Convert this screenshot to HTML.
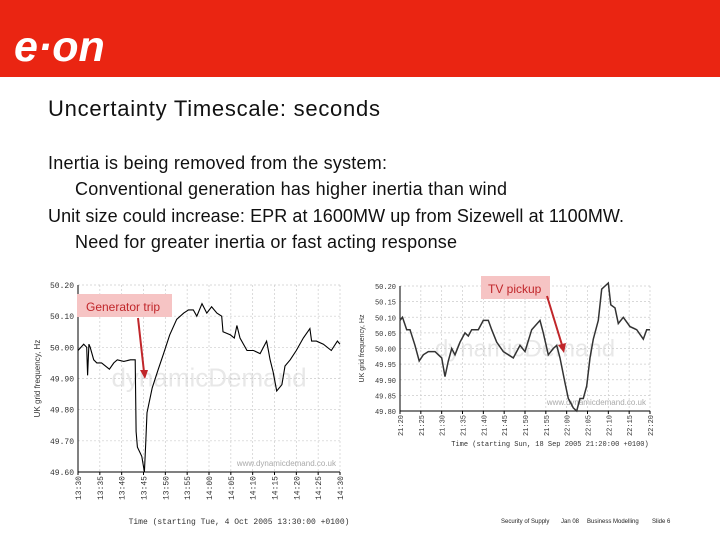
<!DOCTYPE html>
<html><head><meta charset="utf-8"><style>
body{margin:0;width:720px;height:540px;overflow:hidden;background:#fff;font-family:"Liberation Sans",sans-serif}
svg{position:absolute;left:0;top:0}
</style></head><body>
<svg id="s" width="720" height="540" xmlns="http://www.w3.org/2000/svg">
<rect x="0" y="0" width="720" height="77" fill="#ea2512"/>
<text x="14" y="61" font-family="Liberation Sans,sans-serif" font-weight="bold" font-style="italic" font-size="43" fill="#fff">e·on</text>
<text x="48" y="116" font-size="22" textLength="332" fill="#111">Uncertainty Timescale: seconds</text>
<g font-size="18" fill="#111">
<text x="48" y="169" textLength="339">Inertia is being removed from the system:</text>
<text x="75" y="195" textLength="432">Conventional generation has higher inertia than wind</text>
<text x="48" y="222" textLength="576">Unit size could increase: EPR at 1600MW up from Sizewell at 1100MW.</text>
<text x="75" y="248" textLength="382">Need for greater inertia or fast acting response</text>
</g>
<g id="c1"></g>
<g id="c2"></g>
<rect x="77" y="294" width="95" height="23" fill="#f6c4c4"/>
<text x="86" y="311" font-size="12" fill="#c0262a">Generator trip</text>
<line x1="138" y1="318" x2="144" y2="372" stroke="#c0262a" stroke-width="2"/>
<polygon points="140,370 148,370 145,379" fill="#c0262a"/>
<rect x="481" y="276" width="69" height="23" fill="#f6c4c4"/>
<text x="488" y="293" font-size="12" fill="#c0262a">TV pickup</text>
<line x1="547" y1="296" x2="562" y2="345" stroke="#c0262a" stroke-width="2"/>
<polygon points="558,345 566,343 564,353" fill="#c0262a"/>
<g font-size="6" fill="#222">
<text x="501" y="523">Security of Supply</text><text x="561" y="523">Jan 08</text><text x="587" y="523">Business Modelling</text><text x="652" y="523">Slide 6</text>
</g>
</svg>
<script>
// Left chart data (minutes from 13:30, Hz)
const leftMinutes=[0,1.3,2,2.2,2.5,2.8,3.6,4.3,5.4,7.2,8.2,9,10.5,12,13.1,13.3,13.6,14.6,15.2,15.5,15.8,17,18.4,19.6,21,22.6,24.2,25.3,26.4,27.2,28.4,29.5,30.6,31.8,32.9,33.2,34.9,35.8,36.4,37.1,38.7,40.2,41.7,43.2,43.6,44,44.7,45.5,46.7,47.4,48.6,50,51.6,53.1,53.5,54.6,56.2,58,59.4,60];
const leftFreq=[49.99,50.01,50.00,49.91,50.01,50.00,49.96,49.95,49.95,49.93,49.95,49.96,49.955,49.96,49.96,49.73,49.68,49.65,49.60,49.69,49.79,49.87,49.93,49.98,50.04,50.09,50.11,50.12,50.12,50.10,50.14,50.11,50.13,50.11,50.10,50.05,50.04,50.03,50.07,50.03,49.99,49.99,49.98,50.02,49.99,49.96,49.92,49.86,49.88,49.94,49.96,49.99,50.03,50.06,50.02,50.02,50.01,49.99,50.02,50.01];
const leftXTicks=["13:30","13:35","13:40","13:45","13:50","13:55","14:00","14:05","14:10","14:15","14:20","14:25","14:30"];
const leftYTicks=[50.20,50.10,50.00,49.90,49.80,49.70,49.60];
// Right chart data (minutes from 21:20, Hz)
const rightMinutes=[0,0.6,1.6,2.4,3.6,4.6,5.6,6.8,8.4,10,10.8,11.6,12.4,13.2,14.4,15.6,16.4,17.2,18.8,20,21.2,22,23.2,24.8,27.2,28.8,30,31.6,33.6,34.4,35.6,36.8,37.6,38.4,39.6,40.4,41.6,42.4,43.2,44,44.8,45.6,46.4,47.6,48.4,50,50.6,51.6,52.4,53.6,55.2,56.8,58.4,59.2,60];
const rightFreq=[50.09,50.10,50.06,50.06,50.01,49.96,49.98,49.99,49.99,49.97,49.91,49.96,50.00,49.98,50.02,50.05,50.04,50.06,50.06,50.09,50.09,50.06,50.02,49.99,49.97,50.01,49.99,50.06,50.09,50.05,49.98,50.00,50.01,49.97,49.89,49.84,49.81,49.80,49.84,49.84,49.88,49.97,50.03,50.09,50.19,50.21,50.14,50.13,50.08,50.10,50.07,50.06,50.03,50.06,50.06];
const rightXTicks=["21:20","21:25","21:30","21:35","21:40","21:45","21:50","21:55","22:00","22:05","22:10","22:15","22:20"];
const rightYTicks=[50.20,50.15,50.10,50.05,50.00,49.95,49.90,49.85,49.80];
const NS="http://www.w3.org/2000/svg";
function mk(p,t,a,txt){const e=document.createElementNS(NS,t);for(const k in a)e.setAttribute(k,a[k]);if(txt!==undefined)e.textContent=txt;p.appendChild(e);return e;}
function chart(g,o){
 const sx=m=>o.x0+(m/60)*(o.x1-o.x0);
 const sy=v=>o.y0+(o.ymax-v)/(o.ymax-o.ymin)*(o.y1-o.y0);
 mk(g,'rect',{x:o.x0,y:o.y0,width:o.x1-o.x0,height:o.y1-o.y0,fill:'#fff'});
 mk(g,'text',{x:(o.x0+o.x1)/2,y:(o.y0+o.y1)/2+8,'font-size':o.wm,'text-anchor':'middle',fill:'#e8e8e8'},'dynamicDemand');
 mk(g,'text',{x:o.x1-4,y:o.y1-6,'font-size':8,'text-anchor':'end',fill:'#aaa'},'www.dynamicdemand.co.uk');
 o.xt.forEach((t,i)=>{const x=sx(i*5);
  if(i>0)mk(g,'line',{x1:x,x2:x,y1:o.y0,y2:o.y1,stroke:'#ccc','stroke-dasharray':'2,2','stroke-width':0.7});
  mk(g,'line',{x1:x,x2:x,y1:o.y1,y2:o.y1+3,stroke:'#000'});
  const tx=mk(g,'text',{x:0,y:0,'font-size':o.fs,'font-family':'Liberation Mono,monospace',fill:'#333','text-anchor':'end',transform:`translate(${x+3},${o.y1+4}) rotate(-90)`},t);
  
  
 });
 o.yt.forEach(v=>{const y=sy(v);
  mk(g,'line',{x1:o.x0,x2:o.x1,y1:y,y2:y,stroke:'#ccc','stroke-dasharray':'2,2','stroke-width':0.7});
  const ty=mk(g,'text',{x:o.x0-4,y:y+3,'font-size':o.fs,'font-family':'Liberation Mono,monospace',fill:'#333','text-anchor':'end'},v.toFixed(2));
  
  
 });
 mk(g,'line',{x1:o.x0,x2:o.x0,y1:o.y0,y2:o.y1,stroke:'#000'});
 mk(g,'line',{x1:o.x0,x2:o.x1,y1:o.y1,y2:o.y1,stroke:'#000'});
 const d=o.m.map((m,i)=>(i?'L':'M')+sx(m).toFixed(1)+','+Math.max(o.y0-3,sy(o.f[i])).toFixed(1)).join(' ');
 const p=mk(g,'path',{d:d,fill:'none',stroke:o.lc,'stroke-width':o.lw});
 
 
 const yl=mk(g,'text',{'font-size':o.fs,fill:'#333','text-anchor':'middle',transform:`translate(${o.ylx},${(o.y0+o.y1)/2}) rotate(-90)`},'UK grid frequency, Hz');
 
 
 const xl=mk(g,'text',{x:o.xlx,y:o.xly,'font-size':o.fs,'font-family':'Liberation Mono,monospace',fill:'#333','text-anchor':'middle'},o.xtitle);
 
 
}
chart(document.getElementById('c1'),{x0:78,x1:340,y0:285,y1:472,ymax:50.20,ymin:49.60,m:leftMinutes,f:leftFreq,xt:leftXTicks,yt:leftYTicks,fs:8,wm:26,lc:'#000',lw:1.1,ylx:40,xlx:239,xly:524,xtitle:'Time (starting Tue, 4 Oct 2005 13:30:00 +0100)'});
chart(document.getElementById('c2'),{x0:400,x1:650,y0:286,y1:411,ymax:50.20,ymin:49.80,m:rightMinutes,f:rightFreq,xt:rightXTicks,yt:rightYTicks,fs:7,wm:24,lc:'#333',lw:1.5,ylx:364,xlx:550,xly:446,xtitle:'Time (starting Sun, 18 Sep 2005 21:20:00 +0100)'});
</script>
</body></html>
